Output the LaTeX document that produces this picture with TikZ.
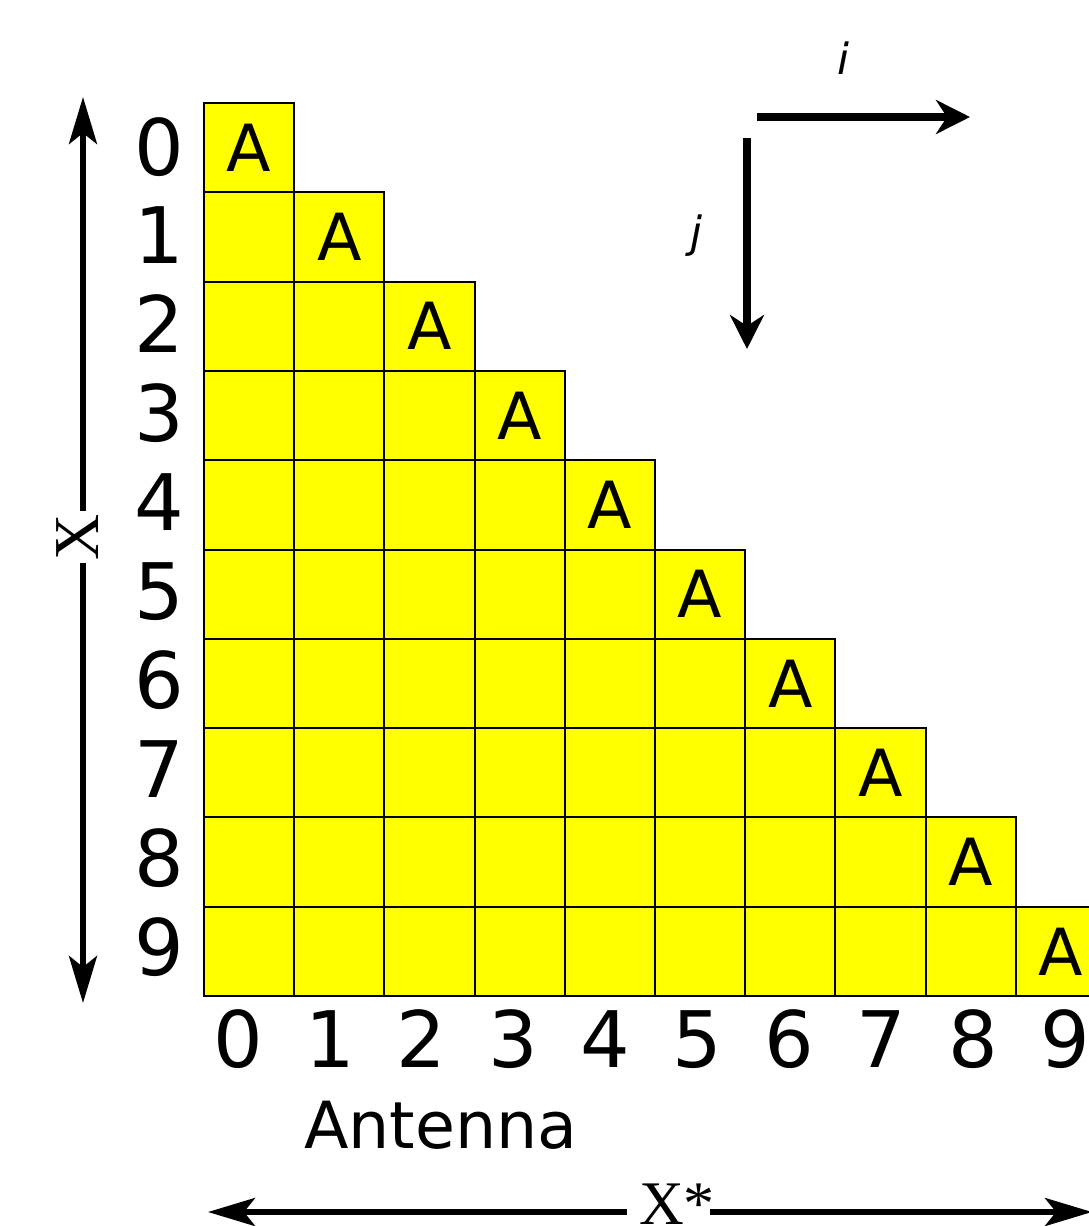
\documentclass[tikz,border=0pt]{standalone}
\usepackage{fontspec}
\setmainfont{DejaVu Sans}
\newfontfamily\tnr{Liberation Serif}
\usetikzlibrary{arrows.meta}
\definecolor{cellyellow}{RGB}{255,255,0}
\begin{document}
\begin{tikzpicture}[x=1pt,y=-1pt,
 cell/.style={draw=black,fill=cellyellow,line width=2pt,minimum width=90.2pt,minimum height=89.3pt,inner sep=0pt,outer sep=0pt,font=\fontsize{65}{65}\selectfont},
 num/.style={anchor=base,inner sep=0pt,font=\fontsize{78}{78}\selectfont},
 bigarrow/.style={line width=5.5pt,-{Stealth[length=47pt,width=28pt,inset=11pt]}},
 dirarrow/.style={line width=8pt,-{Stealth[length=34pt,width=34pt,inset=11pt]}},
 italab/.style={anchor=base,inner sep=0pt,font=\fontsize{43}{43}\selectfont\itshape}]
\useasboundingbox (0,0) rectangle (1088,1226);
\fill[white] (0,0) rectangle (1088,1226);
\foreach \r in {0,...,9} {
  \foreach \c in {0,...,\r} {
    \pgfmathsetmacro\cx{204+90.2*\c+45.1}
    \pgfmathsetmacro\cy{103+89.3*\r+44.65}
    \ifnum\c=\r
      \node[cell] (cell-\r-\c) at (\cx,\cy) {A};
    \else
      \node[cell] (cell-\r-\c) at (\cx,\cy) {};
    \fi
  }
}
\foreach \r in {0,...,9} \node[num] (row-\r) at (159, {175+88.9*\r}) {\r};
\foreach \c in {0,...,9} \node[num] (col-\c) at ({238+91.9*\c}, 1067) {\c};
\node[anchor=base,inner sep=0pt,font=\fontsize{65}{65}\selectfont] (ant) at (441,1148) {Antenna};
% X arrow
\node[rotate=90,inner xsep=3pt,inner ysep=0pt,font=\tnr\fontsize{64}{64}\selectfont] (xlab) at (78,537) {X};
\coordinate (xtop) at (83,97);
\coordinate (xbot) at (83,1003);
\draw[bigarrow] (xlab.east -| xtop) -- (xtop);
\draw[bigarrow] (xlab.west -| xbot) -- (xbot);
% X* arrow
\node[anchor=base,inner sep=0pt,font=\tnr\fontsize{62}{62}\selectfont] (xs) at (677,1224) {X*};
\coordinate (ltip) at (208,1212);
\coordinate (rtip) at (1092,1212);
\draw[bigarrow] ([xshift=-12pt]xs.west |- ltip) -- (ltip);
\draw[bigarrow] ([xshift=-5pt]xs.east |- rtip) -- (rtip);
% i, j
\node[italab] (ilab) at (843,74) {i};
\node[italab] (jlab) at (696,247) {j};
\coordinate (istart) at (757,117);
\coordinate (iend) at (970,117);
\coordinate (jstart) at (747,138);
\coordinate (jend) at (747,349);
\draw[dirarrow] (istart) -- (iend);
\draw[dirarrow] (jstart) -- (jend);
\end{tikzpicture}
\end{document}
